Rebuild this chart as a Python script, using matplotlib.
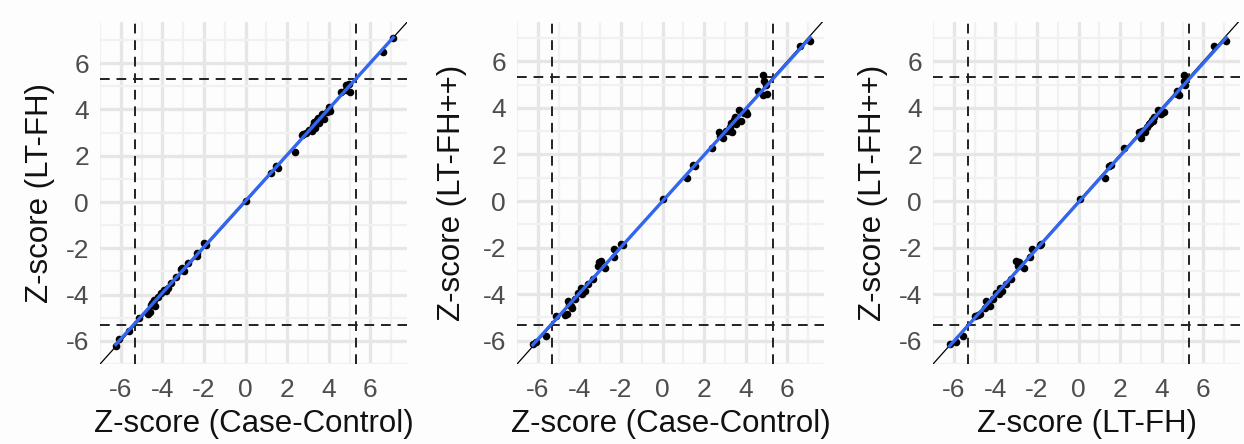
import numpy as np
import matplotlib.pyplot as plt

# per-SNP z-scores
cc = [-6.24, -6.10, -5.60, -5.14, -4.70, -4.60, -4.56, -4.50, -4.42, -4.35,
      -4.20, -4.05, -3.94, -3.85, -3.75, -3.60, -3.36, -3.12, -3.04, -2.96,
      -2.78, -2.35, -2.32, -2.00, -1.92, 0.00, 1.20, 1.47, 1.54, 2.40,
      2.70, 2.77, 2.90, 3.05, 3.20, 3.25, 3.30, 3.35, 3.44, 3.50,
      3.55, 3.70, 3.76, 3.90, 4.00, 4.08, 4.59, 4.83, 4.83, 4.90,
      4.96, 5.04, 6.60, 7.10]
ltfh = [-6.20, -5.90, -5.55, -5.00, -4.85, -4.75, -4.45, -4.35, -4.25, -4.50,
        -4.10, -3.95, -3.80, -3.85, -3.70, -3.50, -3.25, -2.90, -2.86, -3.00,
        -2.64, -2.22, -2.35, -1.79, -1.85, 0.05, 1.25, 1.57, 1.45, 2.17,
        2.90, 2.95, 3.00, 3.10, 3.05, 3.30, 3.45, 3.20, 3.55, 3.65,
        3.40, 3.80, 3.60, 3.90, 4.10, 3.95, 4.75, 4.85, 5.05, 5.05,
        5.10, 4.75, 6.50, 7.10]
ltfhpp = [-6.15, -6.05, -5.80, -4.93, -4.90, -4.85, -4.30, -4.45, -4.50, -4.60,
          -4.20, -3.95, -3.72, -4.00, -3.85, -3.55, -3.36, -2.79, -2.60, -2.57,
          -2.86, -2.07, -2.40, -1.86, -1.90, 0.10, 1.00, 1.54, 1.50, 2.28,
          2.95, 2.79, 2.70, 3.00, 3.00, 3.20, 3.35, 2.95, 3.50, 3.60,
          3.30, 3.90, 3.45, 3.80, 3.83, 3.75, 4.71, 4.54, 5.40, 5.14,
          5.00, 4.60, 6.64, 6.86]

threshold = 5.33
ticks = [-6, -4, -2, 0, 2, 4, 6]

panels = [
    (cc, ltfh, 'Z-score (Case-Control)', 'Z-score (LT-FH)'),
    (cc, ltfhpp, 'Z-score (Case-Control)', 'Z-score (LT-FH++)'),
    (ltfh, ltfhpp, 'Z-score (LT-FH)', 'Z-score (LT-FH++)'),
]
lefts = [0.0804, 0.4156, 0.750]
ylab_x = [-0.195, -0.212, -0.196]

plt.rcParams['font.family'] = ['Liberation Sans', 'DejaVu Sans']
plt.rcParams['axes.unicode_minus'] = False
fig = plt.figure(figsize=(12.44, 4.44), dpi=100, facecolor='#fdfdfd')

for i, (xv, yv, xl, yl) in enumerate(panels):
    ax = fig.add_axes([lefts[i], 0.18, 0.2468, 0.77])
    ax.set_facecolor('#fdfdfd')
    x = np.array(xv)
    y = np.array(yv)
    ax.scatter(x, y, s=30, color='black', zorder=4, linewidths=0)
    b, a = np.polyfit(x, y, 1)
    xs = np.array([x.min(), x.max()])
    ax.plot(xs, a + b * xs, color='#3366ee', lw=2.4, zorder=5)
    ax.axline((0, 0), slope=1, color='black', lw=0.9, zorder=3)
    for t in (-threshold, threshold):
        ax.axvline(t, color='#222222', ls=(0, (5, 3.5)), lw=1.4, zorder=2)
        ax.axhline(t, color='#222222', ls=(0, (5, 3.5)), lw=1.4, zorder=2)
    ax.autoscale_view()
    ax.set_xticks(ticks)
    ax.set_yticks(ticks)
    ax.set_xticks([-7, -5, -3, -1, 1, 3, 5, 7], minor=True)
    ax.set_yticks([-7, -5, -3, -1, 1, 3, 5, 7], minor=True)
    ax.grid(True, which='major', color='#e6e6e6', lw=2.4, zorder=0)
    ax.grid(True, which='minor', color='#f1f1f1', lw=1.6, zorder=0)
    ax.set_axisbelow(True)
    ax.tick_params(which='both', length=0, labelsize=19, labelcolor='#4d4d4d')
    ax.tick_params(axis='x', pad=10)
    ax.tick_params(axis='y', pad=8)
    for s in ax.spines.values():
        s.set_visible(False)
    ax.set_xlabel(xl, fontsize=22.5, color='#111111')
    ax.set_ylabel(yl, fontsize=22.5, color='#111111')
    ax.xaxis.set_label_coords(0.5, -0.175)
    ax.xaxis.label.set_va('center')
    ax.yaxis.set_label_coords(ylab_x[i], 0.5)
    ax.yaxis.label.set_va('center')

plt.savefig('out.png', dpi=100, facecolor=fig.get_facecolor())
